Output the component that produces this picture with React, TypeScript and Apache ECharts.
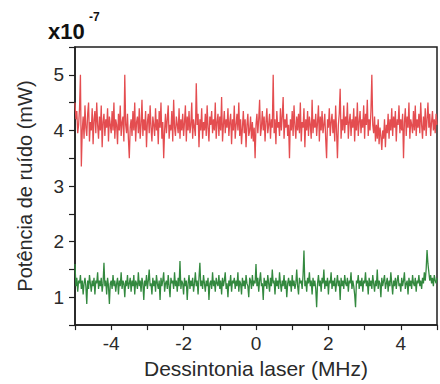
import React, { useEffect, useRef } from "react";
import * as echarts from "echarts";

// Detuning sweep: samples from -5 MHz in 0.025 MHz steps
const FREQ_START = -5;
const FREQ_STEP = 0.025;

// Noise power (x10^-7 mW), upper (red) trace
const redNoise = [
  4.5, 4.2, 4.35, 3.95, 4.1, 4.4, 5.0, 3.35, 4.0, 4.25, 3.85, 4.45, 4.05, 3.9, 4.3, 4.5, 3.8, 4.15, 4.0, 4.4,
  3.75, 4.2, 4.35, 3.95, 4.5, 4.1, 3.85, 4.25, 4.0, 4.45, 3.7, 4.15, 4.3, 3.9, 4.2, 4.05, 4.4, 3.8, 4.25, 4.1,
  3.95, 4.35, 4.0, 4.5, 3.85, 4.2, 4.1, 3.75, 4.3, 4.0, 4.45, 3.9, 4.15, 4.25, 3.8, 5.0, 4.1, 3.95, 4.3, 3.85,
  3.5, 4.05, 4.2, 3.9, 4.35, 4.0, 4.5, 3.8, 4.15, 4.25, 3.95, 4.4, 3.85, 4.1, 4.55, 3.9, 4.2, 4.0, 4.35, 3.7,
  4.15, 4.3, 3.95, 4.45, 4.05, 3.8, 4.25, 4.1, 3.9, 4.4, 4.0, 4.2, 3.75, 4.35, 4.05, 4.5, 3.85, 4.15, 3.5, 4.0,
  4.3, 3.95, 4.2, 4.45, 3.85, 4.1, 4.0, 4.35, 3.8, 4.55, 4.05, 3.9, 4.25, 4.1, 3.95, 4.4, 3.85, 4.2, 4.0, 4.3,
  3.9, 4.15, 4.45, 3.8, 4.25, 4.0, 4.35, 3.95, 4.1, 4.5, 3.85, 4.2, 4.05, 3.9, 4.85, 4.1, 4.3, 3.7, 4.2, 4.0,
  4.4, 3.85, 4.15, 4.0, 4.3, 3.9, 4.45, 4.05, 3.8, 4.25, 4.1, 4.35, 3.95, 4.2, 4.0, 4.5, 3.85, 4.15, 4.3, 3.9,
  4.25, 4.0, 4.6, 3.8, 4.1, 4.35, 3.95, 4.2, 4.05, 4.4, 3.9, 4.15, 4.3, 3.75, 4.2, 4.0, 4.45, 3.85, 4.1, 4.3,
  4.0, 4.5, 3.9, 4.2, 3.75, 4.05, 4.35, 3.95, 4.2, 3.7, 4.1, 4.3, 3.9, 4.0, 4.25, 3.85, 4.15, 3.8, 4.05, 3.5,
  4.1, 4.3, 3.95, 4.2, 4.55, 3.9, 4.05, 4.35, 4.0, 4.25, 3.8, 4.15, 4.4, 3.95, 4.1, 4.3, 3.85, 4.2, 4.05, 5.0,
  3.95, 4.2, 3.75, 4.35, 4.05, 4.15, 3.9, 4.4, 4.0, 4.25, 4.6, 3.85, 4.2, 4.05, 4.3, 3.9, 4.1, 3.5, 4.2, 4.0,
  4.35, 3.9, 4.45, 4.1, 3.85, 4.25, 4.0, 4.3, 3.95, 4.5, 3.8, 4.15, 4.05, 4.4, 3.7, 4.2, 4.0, 4.35, 3.9, 4.25,
  4.1, 3.85, 4.55, 3.95, 4.2, 4.05, 4.3, 3.9, 4.15, 4.45, 3.8, 4.25, 4.0, 4.35, 3.95, 4.1, 4.3, 3.85, 3.5, 4.2,
  4.05, 4.4, 3.9, 4.15, 4.3, 3.95, 4.2, 3.8, 4.45, 4.0, 3.5, 4.1, 4.3, 4.75, 3.85, 4.2, 4.0, 4.45, 3.95, 4.25,
  4.1, 4.5, 3.85, 4.15, 4.3, 3.9, 4.2, 4.05, 4.4, 3.8, 4.25, 4.0, 4.5, 3.9, 4.15, 4.35, 3.95, 4.2, 4.05, 4.45,
  3.85, 4.3, 4.1, 4.55, 3.9, 4.2, 4.0, 4.35, 5.0, 4.1, 3.95, 4.25, 3.8, 4.1, 3.85, 4.2, 3.75, 4.05, 3.9, 3.65,
  4.0, 3.85, 4.2, 3.7, 4.1, 3.95, 4.3, 3.85, 4.2, 4.0, 4.4, 3.9, 4.25, 4.05, 4.35, 3.8, 4.2, 4.1, 4.45, 3.95,
  4.2, 4.0, 4.3, 3.5, 4.15, 4.4, 3.9, 4.25, 4.05, 4.5, 3.85, 4.2, 4.1, 3.95, 4.35, 4.0, 4.45, 3.9, 4.2, 4.05,
  4.3, 3.95, 4.5, 4.1, 3.85, 4.25, 4.0, 4.4, 3.9, 4.2, 4.5, 4.05, 4.3, 3.9, 4.15, 4.35, 4.0, 4.2, 3.95, 4.3,
  4.1,
];

// Noise power (x10^-7 mW), lower (green) trace
const greenNoise = [
  1.6, 1.2, 1.35, 1.1, 1.3, 1.25, 1.4, 1.15, 1.3, 1.05, 1.25, 1.35, 1.2, 0.88, 1.3, 1.15, 1.4, 1.25, 1.1, 1.3,
  1.2, 1.35, 1.05, 1.3, 1.25, 1.45, 1.15, 1.3, 1.2, 1.35, 1.1, 1.25, 1.62, 1.2, 1.3, 1.05, 1.35, 1.2, 0.88, 1.25,
  1.3, 1.15, 1.4, 1.2, 1.3, 1.1, 1.25, 1.35, 1.05, 1.3, 1.2, 1.45, 1.15, 1.3, 1.25, 1.0, 1.3, 1.2, 1.4, 1.15,
  1.25, 1.35, 1.1, 1.3, 1.2, 1.4, 1.05, 1.3, 1.25, 1.15, 1.45, 1.2, 1.3, 1.1, 1.35, 1.25, 0.95, 1.3, 1.2, 1.4,
  1.15, 1.3, 1.5, 1.2, 1.25, 1.05, 1.35, 1.2, 1.3, 1.1, 1.4, 1.25, 1.15, 1.3, 0.95, 1.35, 1.2, 1.3, 1.45, 1.1,
  1.25, 1.3, 1.15, 1.4, 1.2, 1.0, 1.35, 1.25, 1.3, 1.15, 1.45, 1.2, 1.3, 1.1, 1.35, 1.2, 1.65, 1.15, 1.3, 1.25,
  1.05, 1.35, 1.2, 1.3, 0.95, 1.25, 1.4, 1.15, 1.3, 1.2, 1.35, 1.1, 1.25, 1.45, 1.2, 1.3, 1.05, 1.35, 1.62, 1.2,
  1.3, 1.15, 1.4, 1.25, 1.1, 1.3, 1.2, 1.35, 0.95, 1.25, 1.3, 1.15, 1.45, 1.2, 1.3, 1.1, 1.35, 1.25, 1.2, 1.4,
  1.15, 1.3, 1.05, 1.35, 1.2, 1.3, 1.45, 1.15, 1.25, 1.0, 1.3, 1.2, 1.4, 1.1, 1.3, 1.25, 1.35, 1.15, 1.3, 1.2,
  1.45, 1.1, 1.3, 1.25, 1.05, 1.35, 1.2, 1.3, 1.15, 1.4, 1.25, 1.2, 1.0, 1.35, 1.3, 1.15, 1.4, 1.2, 1.3, 1.25,
  1.6, 1.2, 1.35, 1.1, 1.3, 1.45, 1.2, 1.25, 0.95, 1.35, 1.2, 1.3, 1.15, 1.4, 1.25, 1.1, 1.35, 1.2, 1.5, 1.25,
  1.3, 1.05, 1.35, 1.2, 1.3, 1.15, 1.45, 1.25, 1.1, 1.3, 1.2, 1.4, 1.15, 1.3, 1.0, 1.25, 1.35, 1.2, 1.3, 1.1,
  1.4, 1.2, 1.3, 1.15, 1.25, 1.5, 1.2, 1.05, 1.35, 1.25, 1.3, 1.15, 1.4, 1.84, 1.2, 1.3, 1.1, 1.35, 1.25, 1.45,
  1.2, 1.3, 1.05, 1.35, 1.2, 1.3, 1.15, 0.82, 1.25, 1.4, 1.2, 1.3, 1.1, 1.35, 1.25, 1.5, 1.15, 1.3, 1.2, 1.35,
  1.05, 1.3, 1.25, 1.45, 1.15, 1.3, 1.2, 1.35, 1.1, 1.25, 1.4, 1.2, 1.3, 0.95, 1.35, 1.2, 1.3, 1.15, 1.4, 1.25,
  1.2, 1.35, 1.1, 1.3, 1.25, 1.45, 1.15, 1.3, 1.2, 1.05, 0.82, 1.3, 1.25, 1.4, 1.15, 1.3, 1.2, 1.35, 1.1, 1.3,
  1.25, 1.45, 1.2, 1.3, 1.05, 1.35, 1.2, 1.3, 1.15, 1.4, 1.25, 1.1, 1.3, 1.2, 1.5, 1.15, 1.3, 1.25, 1.0, 1.35,
  1.2, 1.3, 1.4, 1.15, 1.25, 1.35, 1.1, 1.3, 1.2, 1.45, 1.25, 1.05, 1.3, 1.2, 1.35, 1.15, 1.3, 1.4, 1.2, 1.25,
  1.1, 1.35, 1.2, 1.3, 1.45, 1.15, 1.25, 1.3, 1.05, 1.35, 1.2, 1.3, 1.15, 1.4, 1.25, 1.2, 1.35, 1.1, 1.3, 1.25,
  1.4, 1.2, 1.3, 1.15, 1.35, 1.25, 1.45, 1.3, 1.5, 1.85, 1.6, 1.45, 1.3, 1.4, 1.25, 1.35, 1.2, 1.4, 1.3, 1.25,
  1.35,
];

const X_MIN = -5;
const X_MAX = 5;
const Y_MIN = 0.5;
const Y_MAX = 5.5;

const X_TITLE = "Dessintonia laser (MHz)";
const Y_TITLE = "Potência de ruído (mW)";
const SCALE_BASE = "x10";
const SCALE_EXP = "-7";

const FONT = "'Liberation Sans', Arial, Helvetica, sans-serif";
const TEXT_COLOR = "#2a2a2a";
const AXIS_COLOR = "#1e1e1e";

const toPairs = (vals: number[]) =>
  vals.map((v, i) => [FREQ_START + i * FREQ_STEP, v]);

export default function App() {
  const ref = useRef<HTMLDivElement>(null);

  useEffect(() => {
    if (!ref.current) return;
    const chart = echarts.init(ref.current, undefined, { renderer: "svg" });
    chart.setOption({
      animation: false,
      backgroundColor: "#ffffff",
      grid: {
        left: 75,
        right: -10,
        top: 47,
        bottom: 54,
        show: true,
        borderColor: AXIS_COLOR,
        borderWidth: 1.5,
        backgroundColor: "transparent",
      },
      graphic: [
        {
          type: "text",
          left: 48,
          top: 20,
          style: {
            text: SCALE_BASE,
            font: `bold 22px ${FONT}`,
            fill: "#111",
          },
        },
        {
          type: "text",
          left: 89,
          top: 11,
          style: {
            text: SCALE_EXP,
            font: `bold 12px ${FONT}`,
            fill: "#111",
          },
        },
      ],
      xAxis: {
        type: "value",
        min: X_MIN,
        max: X_MAX,
        interval: 1,
        name: X_TITLE,
        nameLocation: "middle",
        nameGap: 27,
        nameTextStyle: { fontFamily: FONT, fontSize: 21, color: TEXT_COLOR },
        axisLine: { show: true, onZero: false, lineStyle: { color: AXIS_COLOR, width: 1.5 } },
        axisTick: { show: true, inside: false, length: 5, lineStyle: { color: AXIS_COLOR, width: 1.2 } },
        axisLabel: {
          margin: 9,
          fontFamily: FONT,
          fontSize: 19,
          color: TEXT_COLOR,
          formatter: (v: number) => (Math.round(v) % 2 === 0 && v !== X_MIN ? String(v) : ""),
        },
        splitLine: { show: false },
      },
      yAxis: {
        type: "value",
        min: Y_MIN,
        max: Y_MAX,
        interval: 0.5,
        name: Y_TITLE,
        nameLocation: "middle",
        nameGap: 40,
        nameTextStyle: { fontFamily: FONT, fontSize: 20, color: TEXT_COLOR },
        axisLine: { show: true, onZero: false, lineStyle: { color: AXIS_COLOR, width: 1.5 } },
        axisTick: { show: true, inside: false, length: 6, lineStyle: { color: AXIS_COLOR, width: 1.2 } },
        axisLabel: {
          margin: 11,
          fontFamily: FONT,
          fontSize: 19,
          color: TEXT_COLOR,
          formatter: (v: number) =>
            Math.abs(v - Math.round(v)) < 1e-6 && v < Y_MAX ? String(Math.round(v)) : "",
        },
        splitLine: { show: false },
      },
      series: [
        {
          type: "line",
          data: toPairs(redNoise),
          showSymbol: false,
          lineStyle: { color: "#e44d50", width: 1.3 },
          z: 3,
        },
        {
          type: "line",
          data: toPairs(greenNoise),
          showSymbol: false,
          lineStyle: { color: "#33893f", width: 1.3 },
          z: 3,
        },
      ],
    });
    return () => chart.dispose();
  }, []);

  return (
    <div
      ref={ref}
      style={{ position: "absolute", left: 0, top: 0, width: 440, height: 384 }}
    />
  );
}
